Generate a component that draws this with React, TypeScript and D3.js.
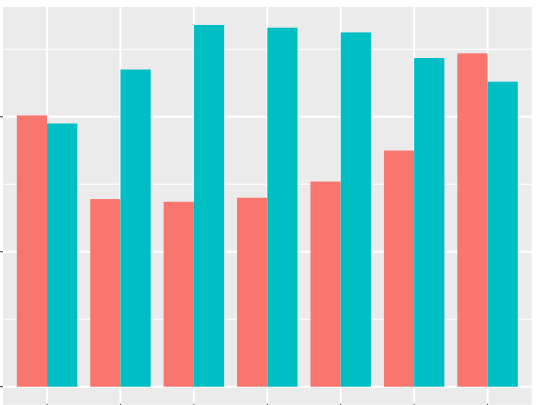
// grouped bar chart, ggplot2 look, drawn with d3 into an svg
import React, { useEffect, useRef } from 'react';
import * as d3 from 'd3';

const categories = ['1', '2', '3', '4', '5', '6', '7'];
const seriesNames = ['a', 'b'];
const seriesA = [20.1, 13.9, 13.7, 14.0, 15.2, 17.5, 24.7];
const seriesB = [19.5, 23.5, 26.8, 26.6, 26.25, 24.35, 22.6];
const yBreaks = [0, 10, 20];
const colors = ['#F8766D', '#00BFC4'];

const App = () => {
    const ref = useRef<SVGSVGElement>(null);

    useEffect(() => {
        const svg = d3.select(ref.current);
        svg.selectAll('*').remove();

        const width = 536;
        const height = 405;
        const panel = { left: 3, right: 531.6, top: 6.9, bottom: 404.8 };

        // discrete x with ggplot's 0.6 expansion
        const step = (panel.right - panel.left) / (categories.length - 1 + 1.2);
        const xCenter = (i: number) => panel.left + step * (0.6 + i);
        const x = d3.scaleBand().domain(categories).range([panel.left + step * 0.1, panel.right - step * 0.1]).paddingInner(0.2).paddingOuter(0);
        const x1 = d3.scaleBand().domain(seriesNames).range([0, x.bandwidth()]);

        const maxV = d3.max([...seriesA, ...seriesB]) as number;
        const y = d3.scaleLinear()
            .domain([-0.05 * maxV, maxV * 1.05])
            .range([panel.bottom, panel.top]);

        svg.attr('width', width).attr('height', height);

        const g = svg.append('g');

        g.append('rect')
            .attr('x', panel.left).attr('y', panel.top)
            .attr('width', panel.right - panel.left).attr('height', panel.bottom - panel.top)
            .attr('fill', '#EBEBEB');

        // minor gridlines
        const minor = yBreaks.map(b => b + 5).concat([-5]).filter(v => y(v) > panel.top && y(v) < panel.bottom);
        g.selectAll('.minor').data(minor).enter().append('line')
            .attr('x1', panel.left).attr('x2', panel.right)
            .attr('y1', d => y(d)).attr('y2', d => y(d))
            .attr('stroke', '#fff').attr('stroke-width', 1);

        // major gridlines
        g.selectAll('.majorY').data(yBreaks).enter().append('line')
            .attr('x1', panel.left).attr('x2', panel.right)
            .attr('y1', d => y(d)).attr('y2', d => y(d))
            .attr('stroke', '#fff').attr('stroke-width', 2);
        g.selectAll('.majorX').data(categories).enter().append('line')
            .attr('x1', (d, i) => xCenter(i)).attr('x2', (d, i) => xCenter(i))
            .attr('y1', panel.top).attr('y2', panel.bottom)
            .attr('stroke', '#fff').attr('stroke-width', 2);

        // bars
        const groups = g.selectAll('.grp').data(categories).enter().append('g')
            .attr('transform', (d, i) => 'translate(' + (xCenter(i) - x.bandwidth() / 2) + ',0)');
        groups.selectAll('rect')
            .data((d, i) => [seriesA[i], seriesB[i]])
            .enter().append('rect')
            .attr('x', (d, j) => x1(seriesNames[j]) as number)
            .attr('width', x1.bandwidth())
            .attr('y', d => y(d))
            .attr('height', d => y(0) - y(d))
            .attr('fill', (d, j) => colors[j]);

        // axis ticks
        g.selectAll('.ty').data(yBreaks).enter().append('line')
            .attr('x1', panel.left - 3).attr('x2', panel.left)
            .attr('y1', d => y(d)).attr('y2', d => y(d))
            .attr('stroke', '#333').attr('stroke-width', 1);
        g.selectAll('.tx').data(categories).enter().append('line')
            .attr('x1', (d, i) => xCenter(i)).attr('x2', (d, i) => xCenter(i))
            .attr('y1', panel.bottom - 1).attr('y2', panel.bottom + 3)
            .attr('stroke', '#333').attr('stroke-width', 1);
    }, []);

    return (
        <svg ref={ref} style={{ position: 'absolute', left: 0, top: 0, display: 'block', background: '#fff' }}></svg>
    );
};

export default App;
